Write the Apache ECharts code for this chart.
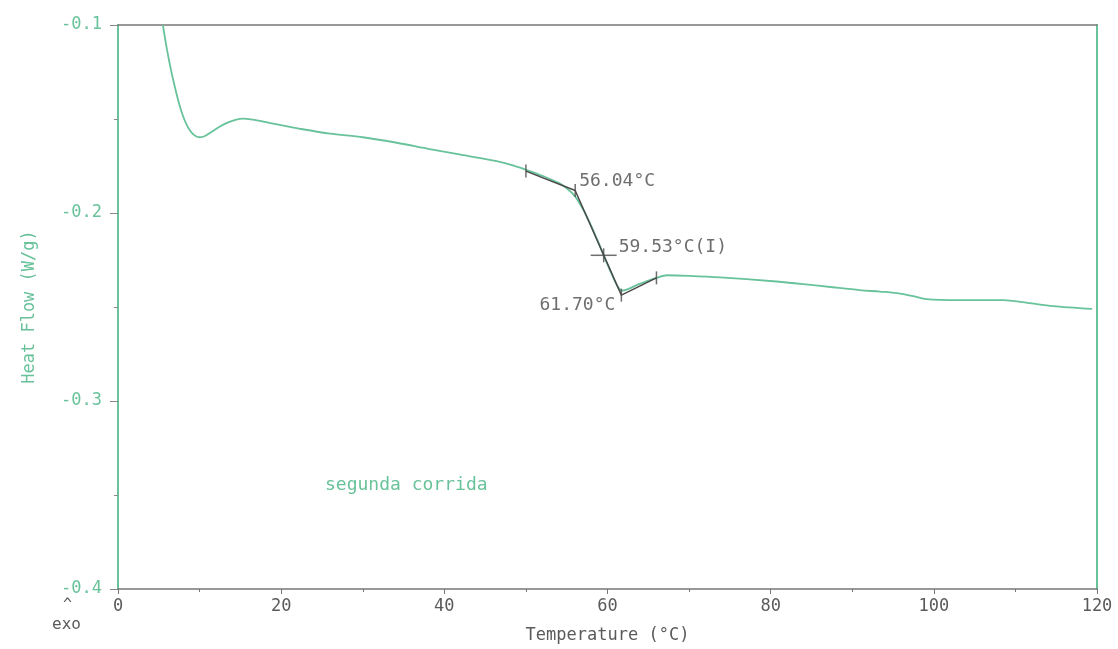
<!DOCTYPE html>
<html lang="es">
<head>
    <meta charset="UTF-8">
    <title>Heat Flow - segunda corrida</title>
    <script src="https://cdn.jsdelivr.net/npm/echarts@6/dist/echarts.min.js"></script>
    <style>
        html, body { margin: 0; padding: 0; background: #fff; }
        #main { width: 1118px; height: 649px; }
    </style>
</head>
<body>
<div id="main"></div>

<script type="text/javascript">
    // curva DSC (segunda corrida)
    var temps = [5.5, 6.0, 6.5, 7.0, 7.5, 8.0, 8.5, 9.0, 9.5, 10.0, 10.6, 11.5, 12.5, 13.5, 14.5, 15.3, 16.5, 18.0,
        20.0, 22.3, 26.0, 30.0, 34.0, 38.2, 42.0, 46.4, 48.5, 50.0, 52.0, 54.0, 55.0, 56.0, 57.0, 58.0,
        59.0, 59.53, 60.5, 61.2, 61.8, 62.5, 63.5, 65.0, 66.0, 67.3, 70.0, 73.8, 80.3, 84.0, 87.6, 90.9,
        93.4, 95.5, 97.5, 99.1, 103.2, 108.5, 111.5, 114.6, 119.4];
    var heatFlow = [-0.100, -0.113, -0.124, -0.1335, -0.1420, -0.1488, -0.1538, -0.1571, -0.1590, -0.1597, -0.1592,
        -0.1568, -0.1540, -0.1518, -0.1503, -0.1498, -0.1503, -0.1515, -0.1533, -0.1552, -0.1578, -0.1597, -0.1625,
        -0.1660, -0.1690, -0.1724, -0.1748, -0.1770, -0.1802, -0.1840, -0.1868, -0.1910, -0.1980, -0.2068, -0.2168,
        -0.2225, -0.2323, -0.2388, -0.2413, -0.2405, -0.2385, -0.2360, -0.2345, -0.2331, -0.2334, -0.2342, -0.2363,
        -0.2378, -0.2395, -0.2410, -0.2418, -0.2426, -0.2442, -0.2458, -0.2463, -0.2463, -0.2478, -0.2495, -0.2510];

    // construccion de tangentes (Tg)
    var tangentT = [50.0, 56.04, 61.70, 66.0];
    var tangentY = [-0.1777, -0.1880, -0.2437, -0.2345];
    var inflection = [59.53, -0.2225];

    var xTicks = [0, 20, 40, 60, 80, 100, 120];
    var yTicks = [-0.4, -0.3, -0.2, -0.1];

    var green = '#68c29a';
    var grey = '#5a5a5a';
    var mono = 'DejaVu Sans Mono';

    var curve = [];
    for (var i = 0; i < temps.length; i++) {
        curve.push([temps[i], heatFlow[i]]);
    }
    var tangent = [];
    for (var j = 0; j < tangentT.length; j++) {
        tangent.push([tangentT[j], tangentY[j]]);
    }

    var myChart = echarts.init(document.getElementById('main'));

    var option = {
        backgroundColor: '#ffffff',
        animation: false,
        grid: { left: 118, right: 21, top: 25, bottom: 55 },
        xAxis: [{
            type: 'value',
            min: xTicks[0],
            max: xTicks[xTicks.length - 1],
            interval: 20,
            name: 'Temperature (°C)',
            nameLocation: 'middle',
            nameGap: 38,
            nameTextStyle: { color: grey, fontFamily: mono, fontSize: 17 },
            axisLine: { onZero: false, lineStyle: { color: '#777', width: 1.5 } },
            axisTick: { length: 5, lineStyle: { color: '#777' } },
            minorTick: { show: true, splitNumber: 2, length: 3, lineStyle: { color: '#777' } },
            axisLabel: { color: grey, fontFamily: mono, fontSize: 17, margin: 9 },
            splitLine: { show: false }
        }, {
            type: 'value',
            position: 'top',
            min: xTicks[0],
            max: xTicks[xTicks.length - 1],
            axisLine: { show: true, onZero: false, lineStyle: { color: '#777', width: 1.5 } },
            axisTick: { show: false },
            axisLabel: { show: false },
            splitLine: { show: false }
        }],
        yAxis: [{
            type: 'value',
            min: yTicks[0],
            max: yTicks[yTicks.length - 1],
            interval: 0.1,
            name: 'Heat Flow (W/g)',
            nameLocation: 'middle',
            nameGap: 80,
            nameRotate: 90,
            nameTextStyle: { color: green, fontFamily: mono, fontSize: 17 },
            axisLine: { show: true, onZero: false, lineStyle: { color: green, width: 2 } },
            axisTick: { show: true, length: 8, lineStyle: { color: '#888' } },
            minorTick: { show: true, splitNumber: 2, length: 4, lineStyle: { color: '#888' } },
            axisLabel: {
                color: green, fontFamily: mono, fontSize: 17, margin: 16,
                formatter: function (v) { return v.toFixed(1); }
            },
            splitLine: { show: false }
        }, {
            type: 'value',
            position: 'right',
            min: yTicks[0],
            max: yTicks[yTicks.length - 1],
            axisLine: { show: true, onZero: false, lineStyle: { color: green, width: 2 } },
            axisTick: { show: false },
            axisLabel: { show: false },
            splitLine: { show: false }
        }],
        series: [
            {
                name: 'segunda corrida',
                type: 'line',
                data: curve,
                smooth: 0.3,
                showSymbol: false,
                lineStyle: { color: green, width: 1.8 },
                z: 3
            },
            {
                name: 'tangentes',
                type: 'line',
                data: tangent,
                showSymbol: false,
                lineStyle: { color: '#4a4a4a', width: 1.5 },
                z: 4
            },
            {
                // marcas verticales de los limites
                type: 'scatter',
                data: tangent,
                symbol: 'rect',
                symbolSize: [1.5, 13],
                itemStyle: { color: '#4a4a4a' },
                z: 5
            },
            {
                // cruz del punto de inflexion
                type: 'scatter',
                data: [inflection, inflection],
                symbol: 'rect',
                symbolSize: function (v, p) { return p.dataIndex === 0 ? [26, 1.5] : [1.5, 14]; },
                itemStyle: { color: '#4a4a4a' },
                z: 5
            },
            {
                type: 'scatter',
                symbolSize: 0,
                data: [
                    { value: tangent[1], label: { formatter: '56.04°C', position: 'right', distance: 4, offset: [0, -9] } },
                    { value: inflection, label: { formatter: '59.53°C(I)', position: 'right', distance: 15, offset: [0, -8] } },
                    { value: tangent[2], label: { formatter: '61.70°C', position: 'left', distance: 6, offset: [0, 10] } }
                ],
                label: { show: true, color: '#4a4a4a', fontFamily: mono, fontSize: 18 },
                z: 6
            }
        ],
        graphic: [
            {
                type: 'text', left: 325, top: 476,
                style: { text: 'segunda corrida', fill: green, font: '18px "DejaVu Sans Mono"' }
            },
            {
                type: 'text', left: 63, top: 598,
                style: { text: '^', fill: grey, font: '15px "DejaVu Sans Mono"' }
            },
            {
                type: 'text', left: 52, top: 617,
                style: { text: 'exo', fill: grey, font: '16px "DejaVu Sans Mono"' }
            }
        ]
    };

    myChart.setOption(option);
</script>
</body>
</html>
